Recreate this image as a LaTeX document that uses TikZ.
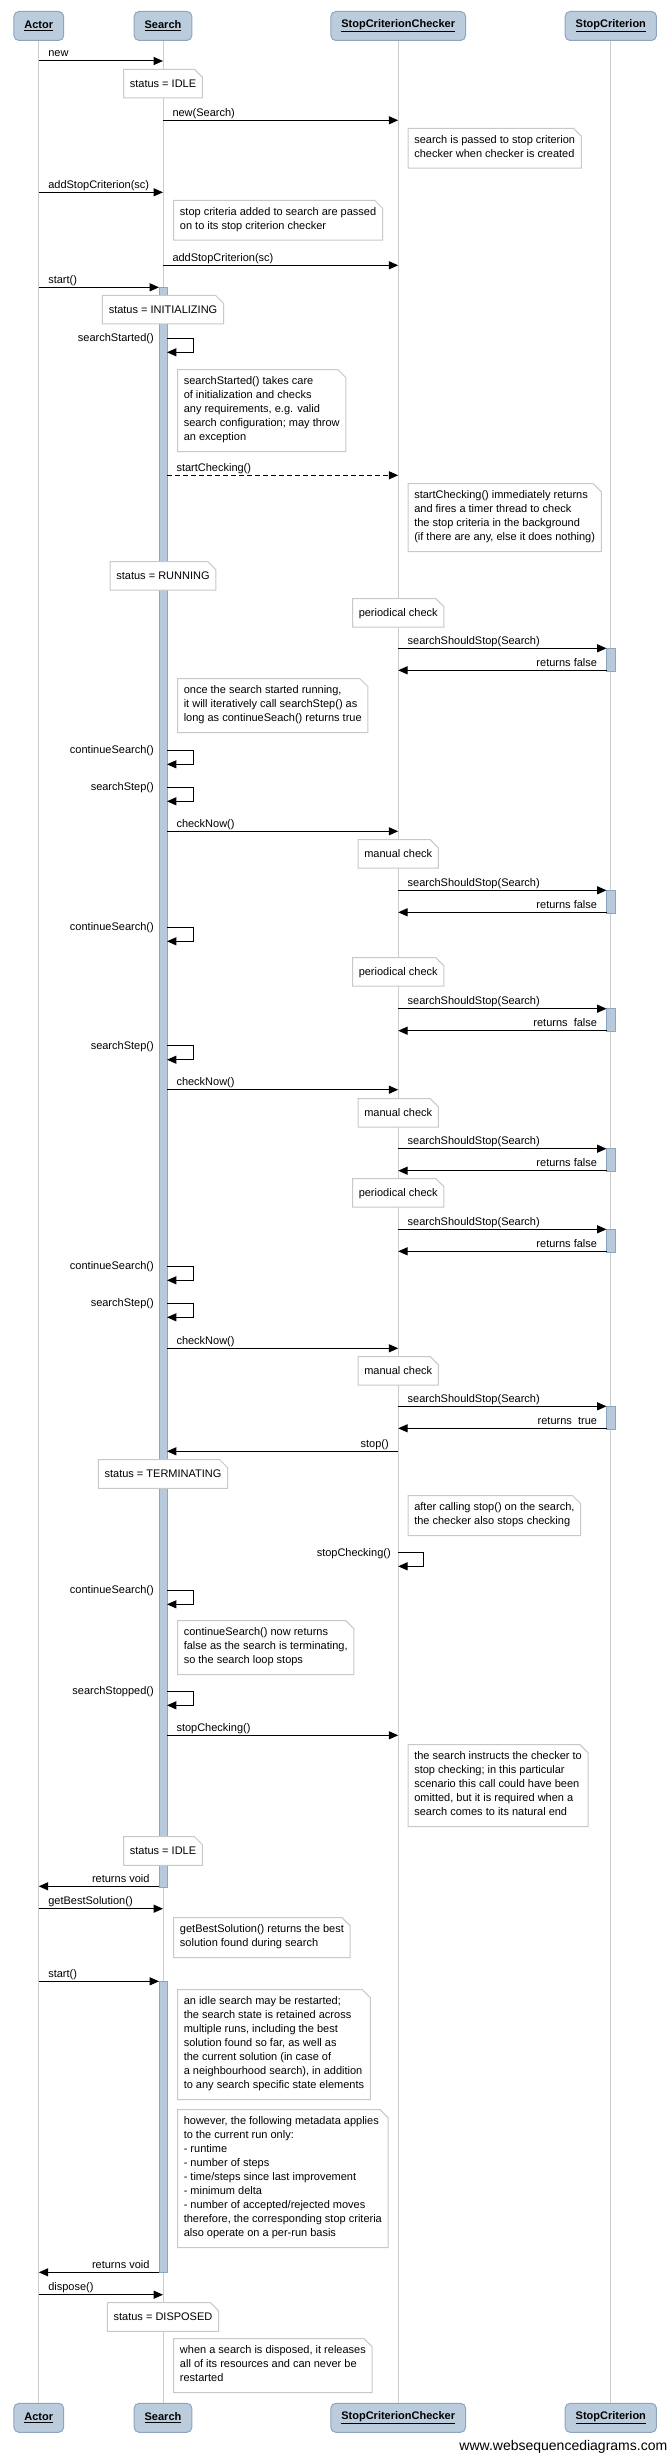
\documentclass[tikz,border=0pt]{standalone}
\usepackage{fontspec}
\setmainfont{Liberation Sans}
\usetikzlibrary{arrows.meta}
\definecolor{headfill}{HTML}{BBCCDD}
\definecolor{headline}{HTML}{8FA4BD}
\definecolor{barfill}{HTML}{B7C9DA}
\definecolor{barline}{HTML}{8CA6C0}
\definecolor{lifegray}{HTML}{CCCCCC}
\definecolor{notegray}{HTML}{C8C8C8}

\begin{document}
\begin{tikzpicture}[x=0.75pt,y=-0.75pt,font=\fontsize{8.25}{10.5}\selectfont,
  head/.style={draw=headline,fill=headfill,line width=0.75pt,rounded corners=3.75pt,
    minimum height=21.75pt,inner xsep=7.9pt,inner ysep=0pt,
    font=\fontsize{8.25}{10.5}\selectfont\bfseries},
  life/.style={lifegray,line width=0.75pt},
  bar/.style={draw=barline,fill=barfill,line width=0.6pt},
  msg/.style={line width=0.75pt,-{Triangle[length=7pt,width=6pt]}},
  mlr/.style={anchor=base west,inner sep=0pt,xshift=6.75pt,yshift=3pt},
  mll/.style={anchor=base east,inner sep=0pt,xshift=-6.75pt,yshift=3pt},
  selfl/.style={anchor=base east,inner sep=0pt,xshift=-3.75pt,yshift=-2.6pt},
  note/.style={anchor=north west,align=left,inner xsep=4.5pt,inner ysep=5.25pt,
    execute at begin node={\rule{0pt}{8pt}},
    execute at end node={\rule[-2.5pt]{0pt}{2.5pt}},
    append after command={\pgfextra{\let\notenode\tikzlastnode
      \filldraw[fill=white,draw=notegray,line width=0.75pt]
        (\notenode.north west) -- ([xshift=-6pt]\notenode.north east)
        -- ([yshift=-6pt]\notenode.north east) -- (\notenode.south east)
        -- (\notenode.south west) -- cycle;}}}]
  \useasboundingbox (0,0) rectangle (668,2454);

  \node[head] (actor) at (38.8,26) {\underline{Actor}};
  \node[head] (search) at (163,26) {\underline{Search}};
  \node[head] (checker) at (398.2,26) {\underline{StopCriterionChecker}};
  \node[head] (crit) at (610.8,26) {\underline{StopCriterion}};
  \node[head] (actorB) at (38.8,2417.8) {\underline{Actor}};
  \node[head] (searchB) at (163,2417.8) {\underline{Search}};
  \node[head] (checkerB) at (398.2,2417.8) {\underline{StopCriterionChecker}};
  \node[head] (critB) at (610.8,2417.8) {\underline{StopCriterion}};
  \foreach \a in {actor,search,checker,crit}
    \draw[life] (\a) -- (\a B);

  \coordinate (sL) at (159,0);
  \coordinate (sR) at (167,0);
  \coordinate (scL) at (606.5,0);
  \draw[bar] (sL |- 0,287.3) rectangle (sR |- 0,1887.3);
  \draw[bar] (sL |- 0,1981.3) rectangle (sR |- 0,2272.3);

  \draw[msg] (actor |- 0,61) node[mlr] (mNew) {new} -- (search |- 0,61);
  \node[note,anchor=north] (stIdle) at (search |- 0,69.3) {status = IDLE};
  \draw[msg] (search |- 0,120.3) node[mlr] (mNewChk) {new(Search)}
    -- (checker |- 0,120.3);
  \node[note] (nPass) at (408,128.3)
    {search is passed to stop criterion\\checker when checker is created};
  \draw[msg] (actor |- 0,192.3) node[mlr] (mAdd) {addStopCriterion(sc)}
    -- (search |- 0,192.3);
  \node[note] (nAdd) at (173.7,200.3)
    {stop criteria added to search are passed\\on to its stop criterion checker};
  \draw[msg] (search |- 0,265.3) node[mlr] (mAddChk) {addStopCriterion(sc)}
    -- (checker |- 0,265.3);
  \draw[msg] (actor |- 0,287.3) node[mlr] (mStart) {start()} -- (sL |- 0,287.3);
  \node[note,anchor=north] (stInit) at (search |- 0,295.3) {status = INITIALIZING};

  \foreach \y/\lab [count=\i] in {338.3/searchStarted(), 750.3/continueSearch(),
      787.3/searchStep(), 927.3/continueSearch(), 1045.7/searchStep(),
      1266.3/continueSearch(), 1303.3/searchStep(), 1590.3/continueSearch(),
      1691.3/searchStopped()} {
    \node[selfl] (self\i) at (sL |- 0,\y) {\lab};
    \draw[msg] (sR |- 0,\y) -| (193,\y+14) -- (sR |- 0,\y+14);
  }

  \node[note] (nStarted) at (177.5,369.7)
    {searchStarted() takes care\\of initialization and checks\\any requirements, e.g. valid\\search configuration; may throw\\an exception};
  \draw[msg,dash pattern=on 3.75pt off 2.25pt] (sR |- 0,475.3)
    node[mlr] (mStartChk) {startChecking()} -- (checker |- 0,475.3);
  \node[note] (nStartChk) at (408,483.7)
    {startChecking() immediately returns\\and fires a timer thread to check\\the stop criteria in the background\\(if there are any, else it does nothing)};
  \node[note,anchor=north] (stRun) at (search |- 0,561.7) {status = RUNNING};
  \node[note] (nLoop) at (177.5,678.7)
    {once the search started running,\\it will iteratively call searchStep() as\\long as continueSeach() returns true};

  \foreach \y [count=\i] in {831.3,1089.7,1348.3}
    \draw[msg] (sR |- 0,\y) node[mlr] (mCheck\i) {checkNow()} -- (checker |- 0,\y);

  \foreach \t/\a/\kind/\res [count=\k] in {598.7/648.3/periodical/returns false,
      839.7/890.3/manual/returns false, 957.7/1008.7/periodical/returns\ \ false,
      1098.7/1148.7/manual/returns false, 1178.7/1229.3/periodical/returns false,
      1356.7/1406.3/manual/returns\ \ true} {
    \node[note,anchor=north] (chk\k) at (checker |- 0,\t) {\kind\ check};
    \draw[bar] (scL |- 0,\a) rectangle (615.1,\a+22.7);
    \draw[msg] (checker |- 0,\a) node[mlr] (ask\k) {searchShouldStop(Search)}
      -- (scL |- 0,\a);
    \draw[msg] (scL |- 0,\a+22) node[mll] (ans\k) {\res} -- (checker |- 0,\a+22);
  }

  \draw[msg] (checker |- 0,1451.3) node[mll] (mStop) {stop()} -- (sR |- 0,1451.3);
  \node[note,anchor=north] (stTerm) at (search |- 0,1459.7) {status = TERMINATING};
  \node[note] (nAfterStop) at (408,1495.7)
    {after calling stop() on the search,\\the checker also stops checking};
  \node[selfl,xshift=-1.65pt] (selfChk) at (checker |- 0,1552.7) {stopChecking()};
  \draw[msg] (checker |- 0,1552.7) -| (423.4,1566.3) -- (checker |- 0,1566.3);
  \node[note] (nTerm) at (177.5,1620.7)
    {continueSearch() now returns\\false as the search is terminating,\\so the search loop stops};
  \draw[msg] (sR |- 0,1735.3) node[mlr] (mStopChk) {stopChecking()}
    -- (checker |- 0,1735.3);
  \node[note] (nInstruct) at (408,1744.7)
    {the search instructs the checker to\\stop checking; in this particular\\scenario this call could have been\\omitted, but it is required when a\\search comes to its natural end};
  \node[note,anchor=north] (stIdleB) at (search |- 0,1836.7) {status = IDLE};
  \draw[msg] (sL |- 0,1886.3) node[mll] (mRet) {returns void} -- (actor |- 0,1886.3);
  \draw[msg] (actor |- 0,1908.7) node[mlr] (mBest) {getBestSolution()}
    -- (search |- 0,1908.7);
  \node[note] (nBest) at (173.7,1917.7)
    {getBestSolution() returns the best\\solution found during search};
  \draw[msg] (actor |- 0,1981.3) node[mlr] (mRestart) {start()} -- (sL |- 0,1981.3);
  \node[note] (nRestart) at (177.5,1989.7)
    {an idle search may be restarted;\\the search state is retained across\\multiple runs, including the best\\solution found so far, as well as\\the current solution (in case of\\a neighbourhood search), in addition\\to any search specific state elements};
  \node[note] (nMeta) at (177.5,2109.7)
    {however, the following metadata applies\\to the current run only:\\- runtime\\- number of steps\\- time/steps since last improvement\\- minimum delta\\- number of accepted/rejected moves\\therefore, the corresponding stop criteria\\also operate on a per-run basis};
  \draw[msg] (sL |- 0,2272.3) node[mll] (mRetB) {returns void} -- (actor |- 0,2272.3);
  \draw[msg] (actor |- 0,2294.7) node[mlr] (mDispose) {dispose()}
    -- (search |- 0,2294.7);
  \node[note,anchor=north] (stDisp) at (search |- 0,2302.7) {status = DISPOSED};
  \node[note] (nDisposed) at (173.7,2338.7)
    {when a search is disposed, it releases\\all of its resources and can never be\\restarted};

  \node[anchor=base east,inner sep=0pt,font=\fontsize{10.5}{12}\selectfont] (wsd)
    at (667.5,2450.5) {www.websequencediagrams.com};
\end{tikzpicture}
\end{document}
